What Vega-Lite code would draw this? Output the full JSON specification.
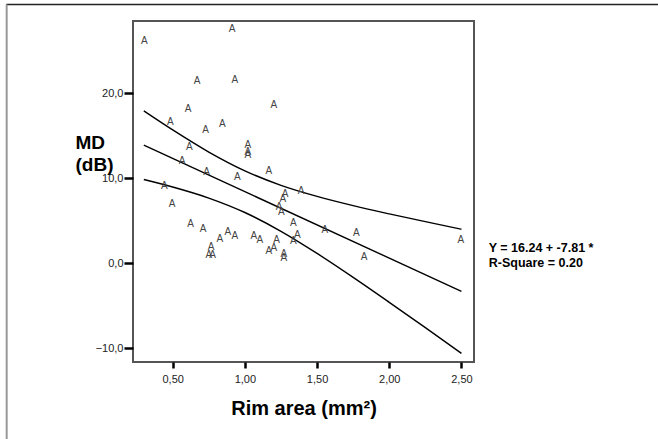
{
  "$schema": "https://vega.github.io/schema/vega-lite/v6.json",
  "autosize": {"type": "none"},
  "padding": {"left": 133, "top": 21, "right": 184, "bottom": 77},
  "width": 341,
  "height": 341,
  "background": "white",
  "config": {
    "font": "Liberation Sans",
    "view": {"stroke": "#555555", "strokeWidth": 2},
    "axis": {"grid": false, "domain": false, "tickColor": "#000000", "tickWidth": 2.5, "tickSize": 6, "labelFont": "Liberation Sans", "labelFontSize": 11, "labelColor": "#222222", "titleFont": "Liberation Sans", "titleFontWeight": "bold", "titleColor": "#000000"}
  },
  "datasets": {
    "points": [
      {"rim": 0.304, "md": 26.2}, {"rim": 0.912, "md": 27.6}, {"rim": 0.669, "md": 21.4}, {"rim": 0.930, "md": 21.6},
      {"rim": 1.200, "md": 18.6}, {"rim": 0.607, "md": 18.2}, {"rim": 0.484, "md": 16.6}, {"rim": 0.843, "md": 16.4},
      {"rim": 0.727, "md": 15.7}, {"rim": 1.020, "md": 13.9}, {"rim": 1.020, "md": 13.1}, {"rim": 1.020, "md": 12.7},
      {"rim": 0.616, "md": 13.7}, {"rim": 0.565, "md": 12.0}, {"rim": 1.166, "md": 10.9}, {"rim": 0.734, "md": 10.7},
      {"rim": 0.947, "md": 10.2}, {"rim": 0.442, "md": 9.1}, {"rim": 0.496, "md": 7.0}, {"rim": 1.278, "md": 8.2},
      {"rim": 1.262, "md": 7.6}, {"rim": 1.390, "md": 8.5}, {"rim": 1.237, "md": 6.6}, {"rim": 1.253, "md": 6.0},
      {"rim": 1.336, "md": 4.8}, {"rim": 1.554, "md": 3.9}, {"rim": 1.363, "md": 3.3}, {"rim": 1.336, "md": 2.6},
      {"rim": 1.220, "md": 2.7}, {"rim": 1.201, "md": 1.8}, {"rim": 1.166, "md": 1.5}, {"rim": 1.270, "md": 1.1},
      {"rim": 1.270, "md": 0.6}, {"rim": 0.623, "md": 4.6}, {"rim": 0.711, "md": 4.0}, {"rim": 0.826, "md": 2.9},
      {"rim": 0.881, "md": 3.7}, {"rim": 0.930, "md": 3.2}, {"rim": 1.062, "md": 3.2}, {"rim": 1.103, "md": 2.7},
      {"rim": 0.766, "md": 1.9}, {"rim": 0.750, "md": 1.0}, {"rim": 0.777, "md": 1.0}, {"rim": 1.772, "md": 3.6},
      {"rim": 1.825, "md": 0.7}, {"rim": 2.495, "md": 2.7}
    ],
    "lines": [
      {"band": "fit", "rim": 0.30, "md": 13.90}, {"band": "fit", "rim": 2.50, "md": -3.29},
      {"band": "upper", "rim": 0.30, "md": 17.93}, {"band": "upper", "rim": 0.50, "md": 15.69}, {"band": "upper", "rim": 0.75, "md": 13.09},
      {"band": "upper", "rim": 1.00, "md": 10.88}, {"band": "upper", "rim": 1.25, "md": 9.18}, {"band": "upper", "rim": 1.50, "md": 7.88},
      {"band": "upper", "rim": 1.75, "md": 6.79}, {"band": "upper", "rim": 2.00, "md": 5.82}, {"band": "upper", "rim": 2.25, "md": 4.90},
      {"band": "upper", "rim": 2.50, "md": 4.01},
      {"band": "lower", "rim": 0.30, "md": 9.86}, {"band": "lower", "rim": 0.50, "md": 8.98}, {"band": "lower", "rim": 0.75, "md": 7.68},
      {"band": "lower", "rim": 1.00, "md": 5.98}, {"band": "lower", "rim": 1.25, "md": 3.77}, {"band": "lower", "rim": 1.50, "md": 1.17},
      {"band": "lower", "rim": 1.75, "md": -1.65}, {"band": "lower", "rim": 2.00, "md": -4.58}, {"band": "lower", "rim": 2.25, "md": -7.56},
      {"band": "lower", "rim": 2.50, "md": -10.58}
    ]
  },
  "layer": [
    {
      "data": {"name": "lines"},
      "mark": {"type": "line", "color": "#000000", "strokeWidth": 1.4, "interpolate": "monotone"},
      "encoding": {
        "x": {"field": "rim", "type": "quantitative", "scale": {"domain": [0.225, 2.587], "nice": false, "zero": false},
          "axis": {"values": [0.5, 1.0, 1.5, 2.0, 2.5], "labelExpr": "replace(format(datum.value, '.2f'), '.', ',')", "labelPadding": 5,
            "title": "Rim area (mm²)", "titleFontSize": 20, "titlePadding": 14}},
        "y": {"field": "md", "type": "quantitative", "scale": {"domain": [-11.6, 28.5], "nice": false, "zero": false},
          "axis": {"values": [-10, 0, 10, 20], "labelExpr": "replace(format(datum.value, '.1f'), '.', ',')", "labelPadding": 1, "tickSize": 9,
            "title": ["MD", "(dB)"], "titleFontSize": 19, "titleAngle": 0, "titleAlign": "left", "titleBaseline": "alphabetic",
            "titleX": -58, "titleY": 127, "titleLineHeight": 22}},
        "detail": {"field": "band", "type": "nominal"}
      }
    },
    {
      "data": {"name": "points"},
      "mark": {"type": "text", "text": "A", "fontSize": 10, "color": "#444444", "baseline": "middle", "align": "center"},
      "encoding": {
        "x": {"field": "rim", "type": "quantitative"},
        "y": {"field": "md", "type": "quantitative"}
      }
    },
    {
      "data": {"values": [{}]},
      "mark": {"type": "text", "text": ["Y = 16.24 + -7.81 *", "R-Square = 0.20"], "fontSize": 12.5, "fontWeight": "bold", "color": "#000000", "align": "left", "baseline": "alphabetic", "lineHeight": 15},
      "encoding": {"x": {"datum": 2.689}, "y": {"datum": 1.33}}
    },
    {
      "data": {"values": [{}]},
      "mark": {"type": "rule", "color": "#222222", "strokeWidth": 1.5},
      "encoding": {"x": {"datum": -0.653}, "x2": {"datum": 3.87}, "y": {"datum": 30.45}}
    },
    {
      "data": {"values": [{}]},
      "mark": {"type": "rule", "color": "#999999", "strokeWidth": 2},
      "encoding": {"x": {"datum": -0.65}, "y": {"datum": 30.45}, "y2": {"datum": -20.7}}
    }
  ]
}
